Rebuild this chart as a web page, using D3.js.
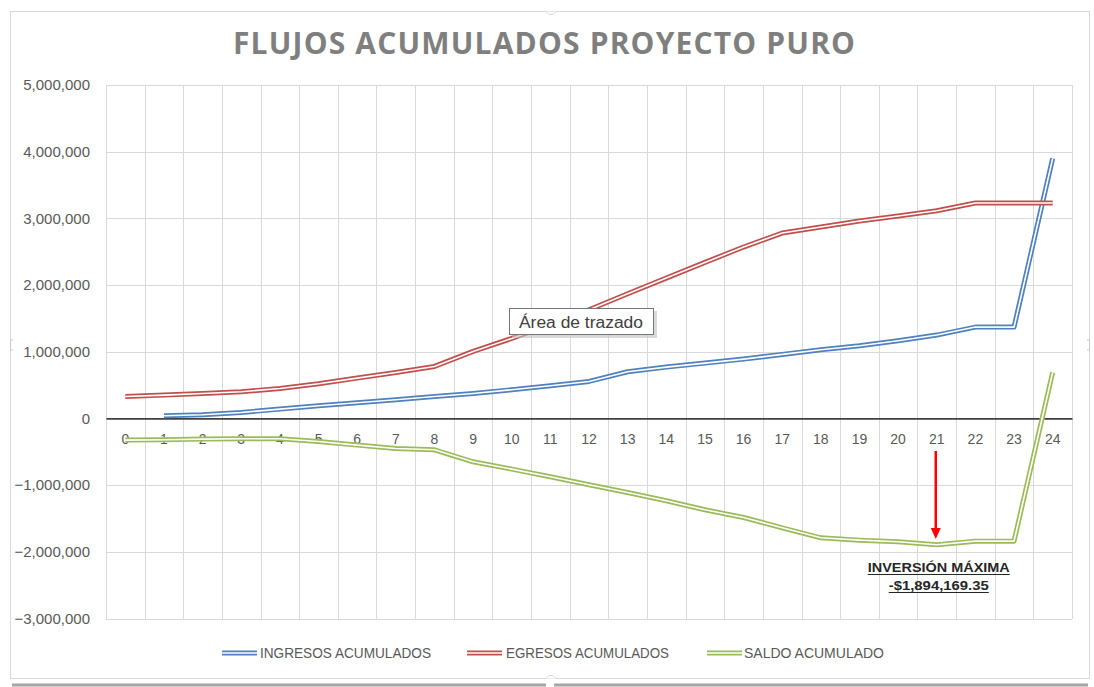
<!DOCTYPE html>
<html>
<head>
<meta charset="utf-8">
<script src="https://cdn.jsdelivr.net/npm/d3@7"></script>
<style>
  html, body { margin: 0; padding: 0; background: #ffffff; }
  svg { display: block; }
</style>
</head>
<body>
<svg id="chart" width="1094" height="687"></svg>
<script>
// Periods (months) of the project
const periods = d3.range(0, 25);

// Accumulated flows per period
const ingresosAcumulados = [null, 40000, 55000, 90000, 140000, 190000, 235000, 280000, 330000, 375000,
  430000, 490000, 555000, 700000, 770000, 830000, 890000, 960000, 1030000, 1090000,
  1165000, 1250000, 1370000, 1370000, 3900000];
const egresosAcumulados = [330000, 350000, 375000, 400000, 450000, 520000, 605000, 690000, 780000, 1005000,
  1200000, 1410000, 1630000, 1870000, 2105000, 2340000, 2570000, 2780000, 2870000, 2960000,
  3035000, 3115000, 3230000, 3230000, 3230000];
const saldoAcumulado = [-325000, -320000, -310000, -305000, -305000, -345000, -400000, -450000, -470000, -650000,
  -760000, -875000, -995000, -1110000, -1235000, -1370000, -1485000, -1640000, -1790000, -1825000,
  -1850000, -1894169.35, -1840000, -1840000, 690000];

const yTicks = [-3000000, -2000000, -1000000, 0, 1000000, 2000000, 3000000, 4000000, 5000000];

const seriesNames = ["INGRESOS ACUMULADOS", "EGRESOS ACUMULADOS", "SALDO ACUMULADO"];
const seriesColors = ["#4f81bd", "#c0504d", "#9bbb59"];
const seriesValues = [ingresosAcumulados, egresosAcumulados, saldoAcumulado];

const titleText = "FLUJOS ACUMULADOS PROYECTO PURO";
const maxPeriod = 21; // period of maximum investment

const svg = d3.select("#chart");

// Chart frame
const frame = svg.append("g");
frame.append("rect")
  .attr("x", 10.5).attr("y", 11.5).attr("width", 1079).attr("height", 667)
  .attr("fill", "#ffffff").attr("stroke", "#d9d9d9").attr("stroke-width", 1);
frame.append("line").attr("x1", 12).attr("x2", 1088).attr("y1", 685).attr("y2", 685)
  .attr("stroke", "#a6a6a6").attr("stroke-width", 3);
frame.append("rect").attr("x", 546).attr("y", 681).attr("width", 8).attr("height", 6).attr("fill", "#ffffff");
frame.append("path").attr("d", "M546,11.5 L549,14.5 L553,14.5 L556,11.5")
  .attr("fill", "#ffffff").attr("stroke", "#d9d9d9");
frame.append("path").attr("d", "M546,678.5 L549,675.5 L553,675.5 L556,678.5")
  .attr("fill", "#ffffff").attr("stroke", "#d9d9d9");
frame.append("path").attr("d", "M13,340 L10.5,340 L10.5,350 L13,350")
  .attr("fill", "none").attr("stroke", "#c8c8c8");
frame.append("path").attr("d", "M1087,340 L1089.5,340 L1089.5,350 L1087,350")
  .attr("fill", "none").attr("stroke", "#c8c8c8");

// Title
svg.append("text")
  .attr("x", 544).attr("y", 53.5)
  .attr("text-anchor", "middle")
  .attr("font-family", "'Open Sans', 'Liberation Sans', sans-serif")
  .attr("font-weight", "bold")
  .attr("font-size", 30)
  .attr("fill", "#7f7f7f")
  .attr("textLength", 622)
  .attr("lengthAdjust", "spacing")
  .text(titleText);

// Scales
const plot = { left: 106, right: 1072, top: 85, bottom: 618.5 };
const x = d3.scaleBand().domain(periods).range([plot.left, plot.right]).paddingInner(0).paddingOuter(0);
const y = d3.scaleLinear().domain([-3000000, 5000000]).range([plot.bottom, plot.top]);

// Gridlines
const grid = svg.append("g");
grid.selectAll("line.h").data(yTicks).join("line")
  .attr("class", "h")
  .attr("x1", plot.left).attr("x2", plot.right)
  .attr("y1", d => Math.round(y(d)) + 0.5).attr("y2", d => Math.round(y(d)) + 0.5)
  .attr("stroke", "#d9d9d9").attr("stroke-width", 1);
const edges = periods.map(p => x(p)).concat([plot.right]);
grid.selectAll("line.v").data(edges).join("line")
  .attr("class", "v")
  .attr("x1", d => Math.round(d) + 0.5).attr("x2", d => Math.round(d) + 0.5)
  .attr("y1", plot.top).attr("y2", plot.bottom + 0.5)
  .attr("stroke", "#d9d9d9").attr("stroke-width", 1);

// Y axis
const yAxis = svg.append("g")
  .attr("transform", `translate(${plot.left},0)`)
  .call(d3.axisLeft(y).tickValues(yTicks).tickFormat(d3.format(",")).tickSize(0).tickPadding(16));
yAxis.select(".domain").remove();
yAxis.selectAll("text")
  .attr("font-family", "'Liberation Sans', Arial, sans-serif")
  .attr("font-size", 15)
  .attr("fill", "#595959");

// X axis along zero
const xAxis = svg.append("g")
  .attr("transform", `translate(0,${y(0)})`)
  .call(d3.axisBottom(x).tickSize(0).tickSizeOuter(0).tickPadding(16));
xAxis.select(".domain").attr("stroke", "#404040").attr("stroke-width", 1.8);
xAxis.selectAll("text")
  .attr("font-family", "'Liberation Sans', Arial, sans-serif")
  .attr("font-size", 14)
  .attr("fill", "#595959");

// Double-stroke lines
const line = d3.line()
  .defined(d => d.v !== null)
  .x(d => x(d.p) + x.bandwidth() / 2)
  .y(d => y(d.v));

const linesG = svg.append("g");
seriesValues.forEach((vals, i) => {
  const data = periods.map((p, k) => ({ p, v: vals[k] }));
  linesG.append("path").datum(data)
    .attr("d", line).attr("fill", "none")
    .attr("stroke", seriesColors[i]).attr("stroke-width", 5)
    .attr("stroke-linejoin", "round").attr("stroke-linecap", "butt");
  linesG.append("path").datum(data)
    .attr("d", line).attr("fill", "none")
    .attr("stroke", "#ffffff").attr("stroke-width", 1.6)
    .attr("stroke-linejoin", "round").attr("stroke-linecap", "butt");
});

// Legend
const legendItems = [
  { swatch: 222, text: 260, width: 171 },
  { swatch: 467, text: 506, width: 163 },
  { swatch: 707, text: 744, width: 140 }
];
const legend = svg.append("g");
legendItems.forEach((it, i) => {
  legend.append("line")
    .attr("x1", it.swatch).attr("x2", it.swatch + 35).attr("y1", 653).attr("y2", 653)
    .attr("stroke", seriesColors[i]).attr("stroke-width", 5);
  legend.append("line")
    .attr("x1", it.swatch).attr("x2", it.swatch + 35).attr("y1", 653).attr("y2", 653)
    .attr("stroke", "#ffffff").attr("stroke-width", 1.6);
  legend.append("text")
    .attr("x", it.text).attr("y", 658)
    .attr("font-family", "'Liberation Sans', Arial, sans-serif")
    .attr("font-size", 14)
    .attr("fill", "#595959")
    .attr("textLength", it.width)
    .attr("lengthAdjust", "spacingAndGlyphs")
    .text(seriesNames[i]);
});

// Maximum investment annotation
const ax = x(maxPeriod) + x.bandwidth() / 2 - 1;
const ann = svg.append("g");
ann.append("line")
  .attr("x1", ax).attr("x2", ax).attr("y1", 451).attr("y2", 530)
  .attr("stroke", "#ff0000").attr("stroke-width", 2.5);
ann.append("path")
  .attr("d", `M${ax - 5},528 L${ax + 5},528 L${ax},539 Z`)
  .attr("fill", "#ff0000");
const annLines = [
  { t: "INVERSIÓN MÁXIMA", yb: 572, w: 142 },
  { t: "-$" + d3.format(",.2f")(Math.abs(saldoAcumulado[maxPeriod])), yb: 590, w: 100 }
];
annLines.forEach(l => {
  ann.append("text")
    .attr("x", ax + 3).attr("y", l.yb)
    .attr("text-anchor", "middle")
    .attr("font-family", "'Liberation Sans', Arial, sans-serif")
    .attr("font-weight", "bold")
    .attr("font-size", 13.5)
    .attr("fill", "#262626")
    .attr("textLength", l.w)
    .attr("lengthAdjust", "spacingAndGlyphs")
    .text(l.t);
  ann.append("line")
    .attr("x1", ax + 3 - l.w / 2).attr("x2", ax + 3 + l.w / 2)
    .attr("y1", l.yb + 2.5).attr("y2", l.yb + 2.5)
    .attr("stroke", "#262626").attr("stroke-width", 1.2);
});

// Plot-area tooltip
const tip = svg.append("g");
tip.append("rect")
  .attr("x", 512).attr("y", 311).attr("width", 145).attr("height", 27)
  .attr("fill", "#bfbfbf").attr("opacity", 0.6);
tip.append("rect")
  .attr("x", 509.5).attr("y", 308.5).attr("width", 144).attr("height", 26)
  .attr("fill", "#ffffff").attr("stroke", "#767676").attr("stroke-width", 1);
tip.append("text")
  .attr("x", 519).attr("y", 327.5)
  .attr("font-family", "'Liberation Sans', Arial, sans-serif")
  .attr("font-size", 16)
  .attr("fill", "#404040")
  .attr("textLength", 124)
  .attr("lengthAdjust", "spacingAndGlyphs")
  .text("Área de trazado");
</script>
</body>
</html>
